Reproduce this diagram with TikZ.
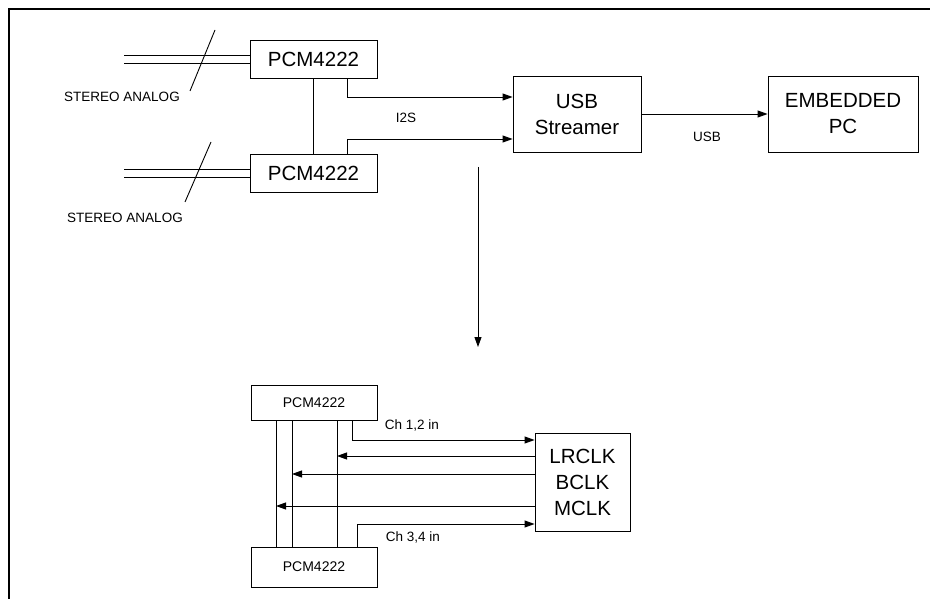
\documentclass[tikz,border=0pt]{standalone}
\usepackage{fontspec}
\setmainfont{Liberation Sans}
\usetikzlibrary{arrows.meta}

\begin{document}
\begin{tikzpicture}[x=1pt,y=-1pt,line width=0.9pt,
        sig/.style={-{Triangle[length=10pt,width=7pt]}},
        bigbox/.style={draw,align=center,font=\fontsize{20.5}{26}\selectfont},
        smallbox/.style={draw,align=center,font=\fontsize{14}{17}\selectfont},
        lbl/.style={font=\fontsize{13.5}{16}\selectfont},
        chlbl/.style={font=\fontsize{13.5}{16}\selectfont}]
        \clip (0,0) rectangle (930,599);
        \draw[line width=2pt] (9,9) rectangle (945,615);

        % Nodes
        \node[bigbox,minimum width=127pt,minimum height=38pt] (pcmA) at (313.5,59) {PCM4222};
        \node[bigbox,minimum width=127pt,minimum height=38pt] (pcmB) at (313.5,173) {PCM4222};
        \node[bigbox,minimum width=128pt,minimum height=76pt] (usb) at (577,114) {USB\\Streamer};
        \node[bigbox,minimum width=150pt,minimum height=76pt] (epc) at (843,114) {EMBEDDED\\PC};
        \node[smallbox,minimum width=126pt,minimum height=35pt] (pcmC) at (314,402.5) {PCM4222};
        \node[smallbox,minimum width=126pt,minimum height=40pt] (pcmD) at (314,567) {PCM4222};
        \node[bigbox,minimum width=95pt,minimum height=98pt] (clk) at (582.5,482) {LRCLK\\BCLK\\MCLK};

        % Inputs
        \coordinate (inA1) at (124,55);
        \coordinate (inA2) at (124,63);
        \coordinate (inB1) at (124,169);
        \coordinate (inB2) at (124,177);
        \draw (inA1) -- (inA1 -| pcmA.west);
        \draw (inA2) -- (inA2 -| pcmA.west);
        \draw (inB1) -- (inB1 -| pcmB.west);
        \draw (inB2) -- (inB2 -| pcmB.west);
        \coordinate (slA1) at (215,30);
        \coordinate (slA2) at (190,91);
        \coordinate (slB1) at (211,142);
        \coordinate (slB2) at (185,202);
        \draw (slA1) -- (slA2);
        \draw (slB1) -- (slB2);

        % Connections
        \draw (pcmA.south) -- (pcmB.north);
        \draw[sig] ([xshift=33.5pt]pcmA.south) |- ([yshift=17pt]usb.west);
        \draw[sig] ([xshift=33.5pt]pcmB.north) |- ([yshift=-25pt]usb.west);
        \draw[sig] (usb.east) -- (epc.west);
        \coordinate (dnA) at (478,167);
        \coordinate (dnB) at (478,347);
        \draw[sig] (dnA) -- (dnB);

        % Clock bus
        \coordinate (bA) at ([xshift=23pt]pcmC.south);
        \coordinate (bB) at ([xshift=-22pt]pcmC.south);
        \coordinate (bC) at ([xshift=-38pt]pcmC.south);
        \draw (bA) -- (bA |- pcmD.north);
        \draw (bB) -- (bB |- pcmD.north);
        \draw (bC) -- (bC |- pcmD.north);
        \coordinate (cA) at ([yshift=26pt]clk.west);
        \coordinate (cB) at ([yshift=8pt]clk.west);
        \coordinate (cC) at ([yshift=-24pt]clk.west);
        \draw[sig] (cA) -- (cA -| bA);
        \draw[sig] (cB) -- (cB -| bB);
        \draw[sig] (cC) -- (cC -| bC);
        \draw[sig] ([xshift=38pt]pcmC.south) |- ([yshift=42pt]clk.west);
        \draw[sig] ([xshift=43pt]pcmD.north) |- ([yshift=-42pt]clk.west);

        % Labels
        \node[lbl] (stA) at (122,97) {STEREO ANALOG};
        \node[lbl] (stB) at (125,218) {STEREO ANALOG};
        \node[lbl] (i2s) at (406,118) {I2S};
        \node[lbl] (usbl) at (707,137) {USB};
        \node[chlbl] (chA) at (412,425) {Ch 1,2 in};
        \node[chlbl] (chB) at (413,537) {Ch 3,4 in};
    \end{tikzpicture}
\end{document}
